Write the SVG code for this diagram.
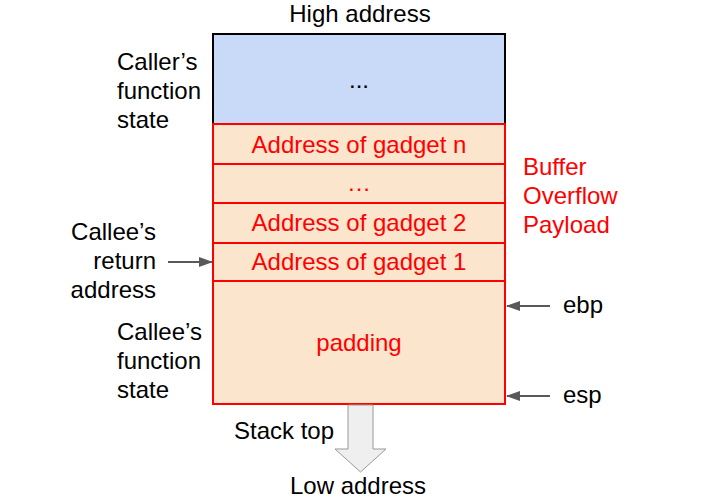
<svg xmlns="http://www.w3.org/2000/svg" width="720" height="498" viewBox="0 0 720 498">
<style>
text{font-family:"Liberation Sans",Arial,sans-serif;font-size:24px;}
.k{fill:#000}
.r{fill:#ff0000}
.c{text-anchor:middle}
.e{text-anchor:end}
.row{fill:#fce5cd;stroke:#ff0000;stroke-width:2}
.ln{stroke:#595959;stroke-width:2;fill:none}
</style>
<defs>
<marker id="ah" viewBox="0 0 14 10" refX="13" refY="5" markerUnits="userSpaceOnUse" markerWidth="14" markerHeight="10" orient="auto"><path d="M0,0 L14,5 L0,10 z" fill="#595959"/></marker>
</defs>
<rect width="720" height="498" fill="#fff"/>
<g id="caller">
<rect x="213" y="34" width="292" height="90" fill="#c9daf8" stroke="#000" stroke-width="2"/>
<text class="k c" x="359" y="88">...</text>
</g>
<g id="gadget-n"><rect class="row" x="213" y="124" width="292" height="40"/><text class="r c" x="359" y="153">Address of gadget n</text></g>
<g id="gadget-dots"><rect class="row" x="213" y="164" width="292" height="39"/><text class="r c" x="359" y="191">…</text></g>
<g id="gadget-2"><rect class="row" x="213" y="203" width="292" height="40"/><text class="r c" x="359" y="231">Address of gadget 2</text></g>
<g id="gadget-1"><rect class="row" x="213" y="243" width="292" height="38"/><text class="r c" x="359" y="270">Address of gadget 1</text></g>
<g id="padding"><rect class="row" x="213" y="281" width="292" height="123"/><text class="r c" x="359" y="351">padding</text></g>
<g id="labels">
<text class="k c" x="360" y="22">High address</text>
<text class="k" x="117" y="70">Caller’s</text>
<text class="k" x="117" y="99">function</text>
<text class="k" x="117" y="128">state</text>
<text class="k e" x="156" y="240">Callee’s</text>
<text class="k e" x="156" y="269">return</text>
<text class="k e" x="156" y="298">address</text>
<text class="k" x="117" y="340">Callee’s</text>
<text class="k" x="117" y="369">function</text>
<text class="k" x="117" y="398">state</text>
<text class="r" x="523" y="175">Buffer</text>
<text class="r" x="523" y="204">Overflow</text>
<text class="r" x="523" y="233">Payload</text>
<text class="k" x="563" y="313">ebp</text>
<text class="k" x="563" y="403">esp</text>
<text class="k" x="234" y="439">Stack top</text>
<text class="k c" x="358" y="494">Low address</text>
</g>
<g id="connectors">
<line class="ln" x1="168" y1="262" x2="212" y2="262" marker-end="url(#ah)"/>
<line class="ln" x1="550" y1="306" x2="507" y2="306" marker-end="url(#ah)"/>
<line class="ln" x1="550" y1="396" x2="507" y2="396" marker-end="url(#ah)"/>
<path d="M348,405 L373,405 L373,449 L386,449 L360.5,472 L335,449 L348,449 Z" fill="#efefef" stroke="#999" stroke-width="1"/>
</g>
</svg>
